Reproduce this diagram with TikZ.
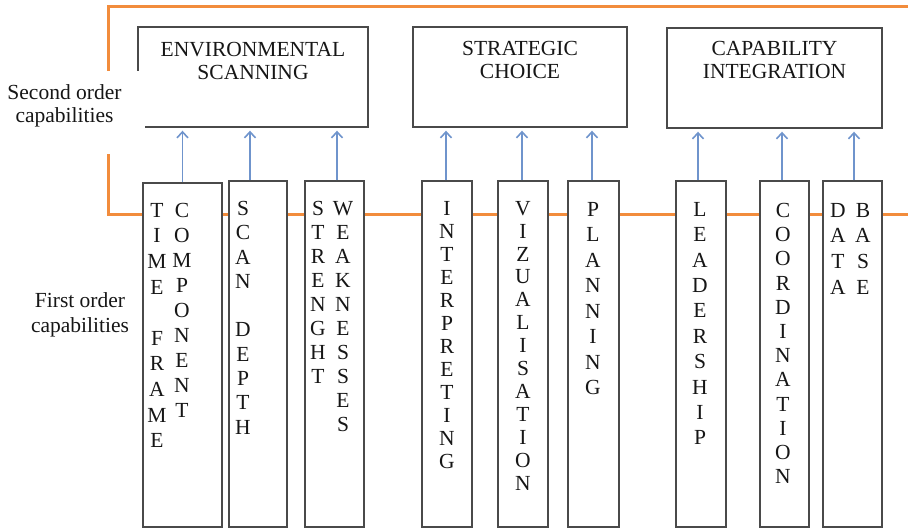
\documentclass[tikz,border=0pt]{standalone}
\usepackage{fontspec}
\setmainfont{Liberation Serif}
\usetikzlibrary{arrows.meta,calc}
\definecolor{orln}{HTML}{F28C3C}
\definecolor{blln}{HTML}{6F94CC}
\definecolor{bxln}{HTML}{4A4A4A}
\definecolor{txt}{HTML}{161616}
\begin{document}
\begin{tikzpicture}[x=1pt,y=-1pt,
  orangeline/.style={draw=orln, line width=3pt},
  box/.style={draw=bxln, line width=1.4pt, fill=white, inner sep=0pt},
  arr/.style={draw=blln, line width=1.6pt, -{Straight Barb[length=6pt,width=11pt]}, shorten >=3pt},
  letters/.style={anchor=north, inner sep=0pt, align=center, text=txt, font=\fontsize{21.5}{#1}\selectfont},
  boxtext/.style={anchor=north, inner sep=0pt, align=center, text=txt, font=\fontsize{21.5}{23.5}\selectfont},
  sidetext/.style={anchor=north, inner sep=0pt, align=center, text=txt, font=\fontsize{21.5}{#1}\selectfont}
]
\useasboundingbox (0,0) rectangle (908,529);

% orange frame
\draw[orangeline] (908,7) -- (108,7) -- (108,215) -- (908,215);

% second order boxes
\node[box, minimum width=230, minimum height=100] (env) at (253,77) {};
\node[box, minimum width=214, minimum height=100] (sc) at (520,77) {};
\node[box, minimum width=215, minimum height=100] (ci) at (774.5,78) {};
\node[boxtext] (envT) at (253,42) {ENVIRONMENTAL\\SCANNING};
\node[boxtext] (scT) at (520,41) {STRATEGIC\\CHOICE};
\node[boxtext] (ciT) at (774.5,41) {CAPABILITY\\INTEGRATION};

% first order boxes
\node[box, minimum width=79, minimum height=344] (tf) at (182.5,355) {};
\node[box, minimum width=58, minimum height=346] (sd) at (258,354) {};
\node[box, minimum width=59, minimum height=346] (sw) at (334.5,354) {};
\node[box, minimum width=50, minimum height=346] (in) at (447,354) {};
\node[box, minimum width=50, minimum height=346] (vz) at (523,354) {};
\node[box, minimum width=51, minimum height=346] (pl) at (593.5,354) {};
\node[box, minimum width=50, minimum height=346] (ld) at (701,354) {};
\node[box, minimum width=49, minimum height=346] (co) at (784.5,354) {};
\node[box, minimum width=59, minimum height=346] (db) at (852.5,354) {};

% letters
\node[letters=25.6] (tfA) at (157,203) {T\\I\\M\\E\\~\\F\\R\\A\\M\\E};
\node[letters=25] (tfB) at (182,203) {C\\O\\M\\P\\O\\N\\E\\N\\T};
\node[letters=24.3] (sdA) at (243,201) {S\\C\\A\\N\\~\\D\\E\\P\\T\\H};
\node[letters=24] (swA) at (318,201) {S\\T\\R\\E\\N\\G\\H\\T};
\node[letters=24] (swB) at (343,201) {W\\E\\A\\K\\N\\E\\S\\S\\E\\S};
\node[letters=23] (inA) at (447,201) {I\\N\\T\\E\\R\\P\\R\\E\\T\\I\\N\\G};
\node[letters=22.9] (vzA) at (523,201) {V\\I\\Z\\U\\A\\L\\I\\S\\A\\T\\I\\O\\N};
\node[letters=25.5] (plA) at (593,202) {P\\L\\A\\N\\N\\I\\N\\G};
\node[letters=25.4] (ldA) at (700,202) {L\\E\\A\\D\\E\\R\\S\\H\\I\\P};
\node[letters=24.2] (coA) at (783,203) {C\\O\\O\\R\\D\\I\\N\\A\\T\\I\\O\\N};
\node[letters=25.6] (dbA) at (838,203) {D\\A\\T\\A};
\node[letters=25.6] (dbB) at (863,203) {B\\A\\S\\E};

% arrows
\path ([xshift=0pt]tf.north) coordinate (tfP);
\path ([xshift=-8pt]sd.north) coordinate (sdP);
\path ([xshift=2.5pt]sw.north) coordinate (swP);
\path ([xshift=-1pt]in.north) coordinate (inP);
\path ([xshift=-1pt]vz.north) coordinate (vzP);
\path ([xshift=-1.5pt]pl.north) coordinate (plP);
\path ([xshift=-3pt]ld.north) coordinate (ldP);
\path ([xshift=-2.5pt]co.north) coordinate (coP);
\path ([xshift=1.5pt]db.north) coordinate (dbP);
\draw[arr] (tfP) -- (tfP |- env.south);
\draw[arr] (sdP) -- (sdP |- env.south);
\draw[arr] (swP) -- (swP |- env.south);
\draw[arr] (inP) -- (inP |- sc.south);
\draw[arr] (vzP) -- (vzP |- sc.south);
\draw[arr] (plP) -- (plP |- sc.south);
\draw[arr] (ldP) -- (ldP |- ci.south);
\draw[arr] (coP) -- (coP |- ci.south);
\draw[arr] (dbP) -- (dbP |- ci.south);

% side labels
\fill[white] (0,71) rectangle (145,154);
\node[sidetext=23] (so) at (64.5,84) {Second order\\capabilities};
\node[sidetext=25] (fo) at (80,292) {First order\\capabilities};
\end{tikzpicture}
\end{document}
